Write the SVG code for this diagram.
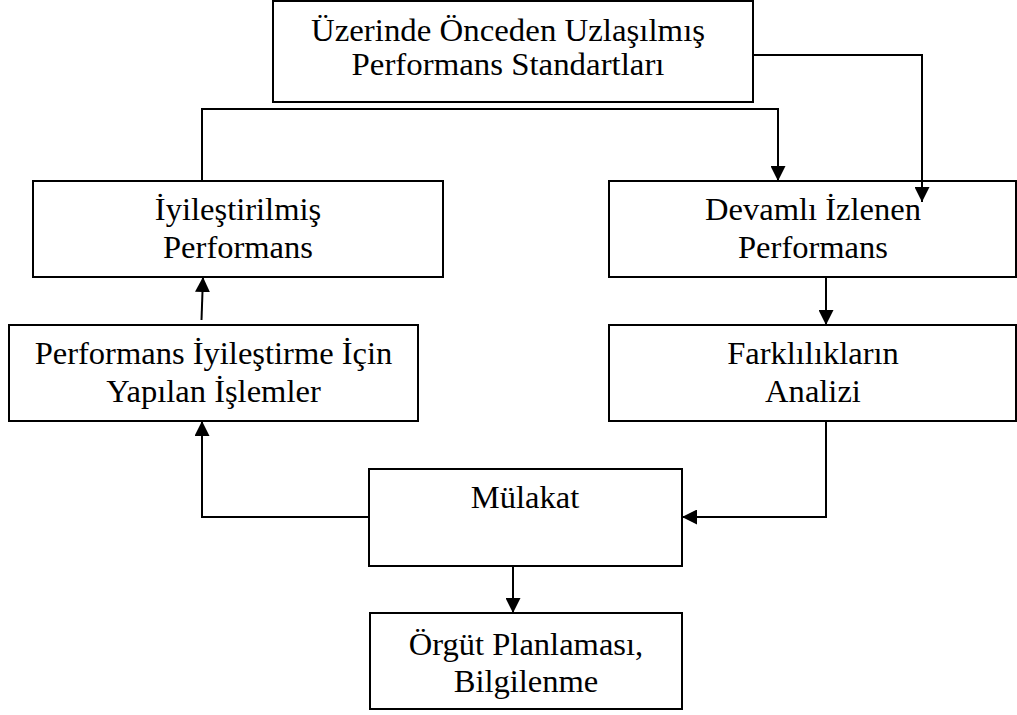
<svg xmlns="http://www.w3.org/2000/svg" width="1017" height="715" viewBox="0 0 1017 715">
  <style>
    .box { fill: #ffffff; stroke: #000000; stroke-width: 2; }
    .wire { fill: none; stroke: #000000; stroke-width: 2; }
    .lbl { font-family: "Liberation Serif", "Times New Roman", serif; font-size: 31px; fill: #000000; text-anchor: middle; }
  </style>
  <defs>
    <marker id="arrow" markerUnits="userSpaceOnUse" markerWidth="15" markerHeight="15" refX="15" refY="7.5" orient="auto">
      <path d="M0,0 L15,7.5 L0,15 Z" fill="#000000"/>
    </marker>
  </defs>
  <rect width="1017" height="715" fill="#ffffff"/>

  <g id="node-standartlar">
    <rect class="box" x="273" y="1" width="480" height="101"/>
    <g transform="translate(508,0) scale(1.06,1)">
      <text class="lbl" x="0" y="41">Üzerinde Önceden Uzlaşılmış</text>
      <text class="lbl" x="0" y="75">Performans Standartları</text>
    </g>
  </g>

  <g id="node-iyilestirilmis">
    <rect class="box" x="33" y="181" width="410" height="96"/>
    <g transform="translate(238,0) scale(1.05,1)">
      <text class="lbl" x="0" y="220">İyileştirilmiş</text>
      <text class="lbl" x="0" y="258">Performans</text>
    </g>
  </g>

  <g id="node-izlenen">
    <rect class="box" x="609" y="181" width="407" height="96"/>
    <g transform="translate(813,0) scale(1.05,1)">
      <text class="lbl" x="0" y="220">Devamlı İzlenen</text>
      <text class="lbl" x="0" y="258">Performans</text>
    </g>
  </g>

  <g id="node-islemler">
    <rect class="box" x="9" y="325" width="409" height="96"/>
    <g transform="translate(213.5,0) scale(1.05,1)">
      <text class="lbl" x="0" y="364">Performans İyileştirme İçin</text>
      <text class="lbl" x="0" y="402">Yapılan İşlemler</text>
    </g>
  </g>

  <g id="node-analiz">
    <rect class="box" x="609" y="325" width="407" height="96"/>
    <g transform="translate(813,0) scale(1.05,1)">
      <text class="lbl" x="0" y="364">Farklılıkların</text>
      <text class="lbl" x="0" y="402">Analizi</text>
    </g>
  </g>

  <g id="node-mulakat">
    <rect class="box" x="369" y="469" width="313" height="97"/>
    <g transform="translate(525,0) scale(1.05,1)">
      <text class="lbl" x="0" y="508">Mülakat</text>
    </g>
  </g>

  <g id="node-planlama">
    <rect class="box" x="370" y="613" width="312" height="96"/>
    <g transform="translate(526,0) scale(1.05,1)">
      <text class="lbl" x="0" y="655">Örgüt Planlaması,</text>
      <text class="lbl" x="0" y="692">Bilgilenme</text>
    </g>
  </g>

  <!-- connectors drawn over the boxes so heads that reach inside stay visible -->
  <g id="connectors">
    <polyline class="wire" points="202,181 202,109 778,109 778,181" marker-end="url(#arrow)"/>
    <polyline class="wire" points="753,55 922,55 922,202" marker-end="url(#arrow)"/>
    <line class="wire" x1="826" y1="277" x2="826" y2="325" marker-end="url(#arrow)"/>
    <polyline class="wire" points="826,421 826,517 682,517" marker-end="url(#arrow)"/>
    <polyline class="wire" points="369,517 202,517 202,421" marker-end="url(#arrow)"/>
    <line class="wire" x1="201.5" y1="320" x2="203" y2="277" marker-end="url(#arrow)"/>
    <line class="wire" x1="513" y1="566" x2="513" y2="613" marker-end="url(#arrow)"/>
  </g>
</svg>
